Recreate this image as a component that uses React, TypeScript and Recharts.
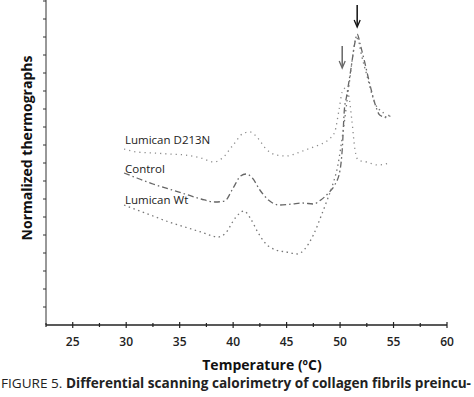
import React from 'react';
import { LineChart, Line, XAxis, YAxis, ReferenceDot } from 'recharts';

// Temperature (°C) readings for each curve
const d213nT = [29.8, 31, 32.5, 34, 35.5, 37, 38.2, 39, 40, 41, 41.6, 42.3, 43, 44, 45, 46, 47, 48, 49, 49.5, 49.9, 50.2, 50.5, 50.8, 51.1, 51.4, 51.7, 52.5, 53.5, 54.6];
const d213nV = [176, 173, 172, 171, 170, 167, 163, 167, 180, 192, 193, 187, 177, 170, 169, 172, 176, 180, 186, 193, 215, 233, 237, 230, 205, 175, 165, 163, 160, 162];

const controlT = [29.8, 31, 32.5, 34, 35.5, 37, 38.3, 39.2, 40, 40.7, 41.2, 41.8, 42.5, 43.3, 44.3, 45.5, 46.5, 47.5, 48.2, 49, 49.5, 50, 50.2, 50.4, 50.6, 51, 51.4, 51.6, 51.9, 52.3, 52.8, 53.3, 53.7, 54.2, 54.7];
const controlV = [152, 147, 141, 136, 131, 126, 123, 124, 137, 149, 151, 147, 135, 125, 120, 121, 122, 121, 125, 133, 140, 155, 175, 215, 228, 255, 283, 291, 280, 263, 240, 220, 210, 208, 209];

const wtT = [29.8, 31, 32.5, 34, 35.5, 37, 38.6, 39.3, 40.2, 41, 41.6, 42.3, 43, 44, 45, 46, 46.7, 47.5, 48.3, 48.8, 49.3, 49.8, 50.1, 50.4, 50.6, 50.9, 51.2, 51.5, 51.7, 52, 52.5, 53, 53.5, 54, 54.3, 54.7];
const wtV = [120, 115, 109, 103, 98, 93, 88, 92, 107, 114, 107, 93, 82, 75, 73, 71, 76, 90, 111, 125, 140, 160, 180, 203, 220, 245, 270, 287, 285, 270, 250, 230, 217, 213, 207, 212];

const xTicks = [22.5, 25, 27.5, 30, 32.5, 35, 37.5, 40, 42.5, 45, 47.5, 50, 52.5, 55, 57.5, 60];
const yTicks = [18, 36, 54, 72, 90, 108, 126, 144, 162, 180, 198, 216, 234, 252, 270, 288, 306, 324];

const arrowTips = [
  { t: 50.2, v: 257, len: 22, color: '#666' },
  { t: 51.6, v: 298, len: 22, color: '#111' },
];

const zip = (ts: number[], vs: number[]) => ts.map((t, i) => ({ t, v: vs[i] }));

const FONT = '"Open Sans", "Noto Sans", sans-serif';

const XTick = (props: any) => {
  const { x, y, payload } = props;
  const val = payload.value;
  const major = Math.abs(val % 5) < 1e-6;
  return (
    <g>
      <line x1={x} y1={325 - (major ? 3 : 2)} x2={x} y2={325 + (major ? 3 : 2)} stroke="#222" strokeWidth={1.2} />
      {major && (
        <text x={x} y={y + 13} textAnchor="middle" fontSize={12} fontWeight={600} fill="#222" fontFamily={FONT}>
          {val}
        </text>
      )}
    </g>
  );
};

const YTick = (props: any) => {
  const { y } = props;
  return <line x1={43} y1={y} x2={46} y2={y} stroke="#333" strokeWidth={1} />;
};

const Arrow = (color: string, len: number) => (props: any) => {
  const { cx, cy } = props;
  return (
    <g>
      <line x1={cx} y1={cy - len} x2={cx} y2={cy - 2} stroke={color} strokeWidth={1.5} />
      <path d={`M${cx - 3},${cy - 7} L${cx},${cy} L${cx + 3},${cy - 7}`} fill="none" stroke={color} strokeWidth={1.3} />
    </g>
  );
};

export default function App() {
  return (
    <div style={{ position: 'absolute', left: 0, top: 0, width: 474, height: 397, background: '#fff' }}>
      <LineChart width={474} height={397} margin={{ top: 0, right: 27, left: 0, bottom: 0 }}>
        <XAxis
          type="number"
          dataKey="t"
          domain={[22.5, 60]}
          ticks={xTicks}
          interval={0}
          tick={<XTick />}
          tickLine={false}
          height={72}
          stroke="#222"
          strokeWidth={1.3}
          allowDataOverflow
        />
        <YAxis
          type="number"
          dataKey="v"
          domain={[0, 325]}
          ticks={yTicks}
          interval={0}
          tick={<YTick />}
          tickLine={false}
          width={46}
          stroke="#333"
          strokeWidth={1}
        />
        <Line data={zip(d213nT, d213nV)} dataKey="v" type="monotone" stroke="#8a8a8a" strokeWidth={1.3} strokeDasharray="1.2 4" dot={false} isAnimationActive={false} />
        <Line data={zip(controlT, controlV)} dataKey="v" type="monotone" stroke="#666" strokeWidth={1.3} strokeDasharray="6 3 1.5 3" dot={false} isAnimationActive={false} />
        <Line data={zip(wtT, wtV)} dataKey="v" type="monotone" stroke="#777" strokeWidth={1.3} strokeDasharray="1.5 3.5" dot={false} isAnimationActive={false} />
        {arrowTips.map((a, i) => (
          <ReferenceDot key={i} x={a.t} y={a.v} r={0} shape={Arrow(a.color, a.len)} ifOverflow="visible" />
        ))}
      </LineChart>
      <svg width={474} height={397} style={{ position: 'absolute', left: 0, top: 0, pointerEvents: 'none' }}>
        <text x={125} y={144} fontSize={11.5} fill="#222" fontFamily={FONT}>Lumican D213N</text>
        <text x={125} y={173} fontSize={11.5} fill="#222" fontFamily={FONT}>Control</text>
        <text x={125} y={204} fontSize={11.5} fill="#222" fontFamily={FONT}>Lumican Wt</text>
        <text x={0} y={0} transform="translate(32,148) rotate(-90)" textAnchor="middle" fontSize={14} fontWeight={700} fill="#111" fontFamily={FONT}>
          Normalized thermographs
        </text>
        <text x={262} y={370} textAnchor="middle" fontSize={14} fontWeight={700} fill="#111" fontFamily={FONT}>
          Temperature (ºC)
        </text>
        <text x={1} y={388} fontSize={13.5} fill="#222" fontFamily={FONT} textLength={470} lengthAdjust="spacingAndGlyphs">
          <tspan>FIGURE 5. </tspan>
          <tspan fontWeight={700}>Differential scanning calorimetry of collagen fibrils preincu-</tspan>
        </text>
      </svg>
    </div>
  );
}
